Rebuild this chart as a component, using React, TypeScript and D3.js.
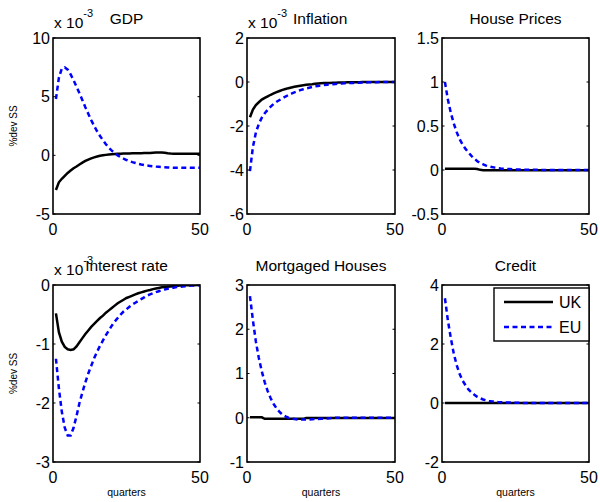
import React from "react";
import * as d3 from "d3";

// quarters 1..50
const quarters: number[] = d3.range(1, 51);

// GDP (x 1e-3)
const gdpUK = [-2.95, -2.3, -2.0, -1.75, -1.5, -1.3, -1.1, -0.95, -0.78, -0.62, -0.48, -0.36, -0.26, -0.17, -0.1, -0.04, 0.0, 0.04, 0.07, 0.1, 0.12, 0.13, 0.14, 0.15, 0.15, 0.16, 0.17, 0.17, 0.18, 0.18, 0.19, 0.19, 0.2, 0.22, 0.24, 0.25, 0.25, 0.22, 0.18, 0.15, 0.14, 0.14, 0.14, 0.14, 0.14, 0.14, 0.14, 0.14, 0.14, 0.14];
const gdpEU = [4.8, 6.6, 7.4, 7.5, 7.3, 6.9, 6.4, 5.85, 5.3, 4.7, 4.1, 3.55, 3.0, 2.5, 2.05, 1.65, 1.28, 0.95, 0.65, 0.4, 0.18, 0.0, -0.15, -0.28, -0.4, -0.5, -0.58, -0.65, -0.72, -0.78, -0.83, -0.87, -0.9, -0.93, -0.96, -0.98, -1.0, -1.02, -1.04, -1.05, -1.06, -1.06, -1.06, -1.06, -1.06, -1.06, -1.06, -1.06, -1.06, -1.06];

// Inflation (x 1e-3)
const inflUK = [-1.6, -1.25, -1.05, -0.92, -0.8, -0.72, -0.65, -0.58, -0.52, -0.46, -0.41, -0.36, -0.32, -0.28, -0.25, -0.22, -0.19, -0.17, -0.15, -0.13, -0.11, -0.1, -0.08, -0.07, -0.06, -0.05, -0.05, -0.04, -0.03, -0.03, -0.02, -0.02, -0.02, -0.01, -0.01, -0.01, -0.01, -0.01, 0.0, 0.0, 0.0, 0.0, 0.0, 0.0, 0.0, 0.0, 0.0, 0.0, 0.0, 0.0];
const inflEU = [-4.05, -2.95, -2.3, -1.9, -1.62, -1.42, -1.26, -1.12, -1.0, -0.9, -0.82, -0.74, -0.66, -0.59, -0.53, -0.47, -0.42, -0.37, -0.33, -0.29, -0.26, -0.23, -0.2, -0.18, -0.16, -0.14, -0.12, -0.11, -0.1, -0.09, -0.08, -0.07, -0.06, -0.05, -0.05, -0.04, -0.03, -0.03, -0.02, -0.02, -0.01, -0.01, -0.01, -0.01, 0.0, 0.0, 0.0, 0.0, 0.0, 0.0];

// House prices
const hpUK = [0.015, 0.015, 0.015, 0.015, 0.015, 0.015, 0.015, 0.015, 0.015, 0.015, 0.015, 0.012, 0.002, -0.002, -0.002, -0.002, -0.002, -0.002, -0.002, -0.002, -0.002, -0.002, -0.002, -0.002, -0.002, -0.002, -0.002, -0.002, -0.002, -0.002, -0.002, -0.002, -0.002, -0.002, -0.002, -0.002, -0.002, -0.002, -0.002, -0.002, -0.002, -0.002, -0.002, -0.002, -0.002, -0.002, -0.002, -0.002, -0.002, -0.002];
const hpEU = [1.0, 0.8, 0.65, 0.53, 0.43, 0.35, 0.29, 0.24, 0.2, 0.16, 0.13, 0.1, 0.08, 0.065, 0.05, 0.04, 0.033, 0.027, 0.022, 0.018, 0.015, 0.012, 0.01, 0.008, 0.007, 0.006, 0.005, 0.004, 0.003, 0.003, 0.002, 0.002, 0.002, 0.001, 0.001, 0.001, 0.001, 0.0, 0.0, 0.0, 0.0, 0.0, 0.0, 0.0, 0.0, 0.0, 0.0, 0.0, 0.0, 0.0];

// Interest rate (x 1e-3)
const irUK = [-0.48, -0.8, -0.96, -1.05, -1.09, -1.1, -1.09, -1.04, -0.97, -0.9, -0.83, -0.77, -0.71, -0.66, -0.61, -0.56, -0.52, -0.47, -0.43, -0.39, -0.35, -0.31, -0.28, -0.25, -0.22, -0.2, -0.18, -0.16, -0.14, -0.125, -0.11, -0.095, -0.085, -0.07, -0.06, -0.05, -0.04, -0.035, -0.03, -0.025, -0.02, -0.015, -0.01, -0.008, -0.006, -0.005, -0.004, -0.003, -0.002, -0.002];
const irEU = [-1.25, -1.75, -2.15, -2.42, -2.55, -2.55, -2.42, -2.22, -2.0, -1.82, -1.65, -1.5, -1.37, -1.24, -1.13, -1.03, -0.94, -0.85, -0.77, -0.69, -0.62, -0.56, -0.5, -0.45, -0.41, -0.37, -0.33, -0.3, -0.27, -0.24, -0.21, -0.18, -0.16, -0.14, -0.12, -0.105, -0.09, -0.075, -0.065, -0.055, -0.045, -0.035, -0.03, -0.025, -0.02, -0.015, -0.01, -0.008, -0.005, -0.003];

// Mortgaged houses
const mhUK = [0.01, 0.01, 0.01, 0.01, 0.01, -0.025, -0.025, -0.025, -0.025, -0.025, -0.025, -0.025, -0.025, -0.025, -0.025, -0.025, -0.025, -0.025, -0.025, -0.005, -0.005, -0.005, -0.005, -0.005, -0.005, -0.005, -0.005, -0.005, -0.005, -0.005, -0.005, -0.005, -0.005, -0.005, -0.005, -0.005, -0.005, -0.005, -0.005, -0.005, -0.005, -0.005, -0.005, -0.005, -0.005, -0.005, -0.005, -0.005, -0.005, -0.005];
const mhEU = [2.75, 2.2, 1.72, 1.35, 1.05, 0.8, 0.6, 0.44, 0.31, 0.21, 0.13, 0.07, 0.03, 0.0, -0.02, -0.03, -0.04, -0.04, -0.04, -0.04, -0.04, -0.035, -0.03, -0.03, -0.025, -0.02, -0.015, -0.01, -0.005, 0.0, 0.0, 0.0, 0.0, 0.0, 0.0, 0.0, 0.0, 0.0, 0.0, 0.0, 0.0, 0.0, 0.0, 0.0, 0.0, 0.0, 0.0, 0.0, 0.0, 0.0];

// Credit
const crUK = [0.0, 0.0, 0.0, 0.0, 0.0, 0.0, 0.0, 0.0, 0.0, 0.0, 0.0, 0.0, 0.0, 0.0, 0.0, 0.0, 0.0, 0.0, 0.0, 0.0, 0.0, 0.0, 0.0, 0.0, 0.0, 0.0, 0.0, 0.0, 0.0, 0.0, 0.0, 0.0, 0.0, 0.0, 0.0, 0.0, 0.0, 0.0, 0.0, 0.0, 0.0, 0.0, 0.0, 0.0, 0.0, 0.0, 0.0, 0.0, 0.0, 0.0];
const crEU = [3.55, 2.8, 2.2, 1.68, 1.28, 0.98, 0.76, 0.6, 0.46, 0.36, 0.28, 0.21, 0.16, 0.12, 0.09, 0.07, 0.055, 0.045, 0.035, 0.028, 0.022, 0.018, 0.014, 0.011, 0.008, 0.006, 0.004, 0.003, 0.002, 0.001, 0.0, 0.0, 0.0, 0.0, 0.0, 0.0, 0.0, 0.0, 0.0, 0.0, 0.0, 0.0, 0.0, 0.0, 0.0, 0.0, 0.0, 0.0, 0.0, 0.0];

const titles = ["GDP", "Inflation", "House Prices", "Interest rate", "Mortgaged Houses", "Credit"];
const yDomains: [number, number][] = [[-5, 10], [-6, 2], [-0.5, 1.5], [-3, 0], [-1, 3], [-2, 4]];
const yTicks: number[][] = [[-5, 0, 5, 10], [-6, -4, -2, 0, 2], [-0.5, 0, 0.5, 1, 1.5], [-3, -2, -1, 0], [-1, 0, 1, 2, 3], [-2, 0, 2, 4]];
const xTicks = [0, 50];
const seriesNames = ["UK", "EU"];
const ukSeries = [gdpUK, inflUK, hpUK, irUK, mhUK, crUK];
const euSeries = [gdpEU, inflEU, hpEU, irEU, mhEU, crEU];
const hasExponent = [true, true, false, true, false, false];

const colLefts = [53, 247, 442];
const colRights = [200, 395, 589];
const rowTops = [38, 285];
const rowBottoms = [214, 462];

const FONT = "'Liberation Sans', Arial, Helvetica, sans-serif";
const TICK_FS = 16;
const TITLE_FS = 15.5;

function Panel({ idx }: { idx: number }) {
  const col = idx % 3;
  const row = Math.floor(idx / 3);
  const x0 = colLefts[col], x1 = colRights[col];
  const y0 = rowTops[row], y1 = rowBottoms[row];
  const x = d3.scaleLinear().domain([0, 50]).range([x0, x1]);
  const y = d3.scaleLinear().domain(yDomains[idx]).range([y1, y0]);
  const line = d3
    .line<number>()
    .x((_, i) => x(quarters[i]))
    .y((d) => y(d));
  const cx = (x0 + x1) / 2;
  const tickLen = 2.5;
  const clipId = `clip${idx}`;
  const fmt = (v: number) => String(v);
  return (
    <g>
      <defs>
        <clipPath id={clipId}>
          <rect x={x0} y={y0} width={x1 - x0} height={y1 - y0} />
        </clipPath>
      </defs>
      <rect x={x0} y={y0} width={x1 - x0} height={y1 - y0} fill="#fff" />
      <g clipPath={`url(#${clipId})`}>
        <path d={line(ukSeries[idx]) || ""} fill="none" stroke="#000" strokeWidth={2.5} />
        <path d={line(euSeries[idx]) || ""} fill="none" stroke="#0000ff" strokeWidth={2.5} strokeDasharray="5,3.5" />
      </g>
      <rect x={x0} y={y0} width={x1 - x0} height={y1 - y0} fill="none" stroke="#000" strokeWidth={1.6} />
      {yTicks[idx].map((t) => (
        <g key={"y" + t}>
          <line x1={x0} x2={x0 + tickLen} y1={y(t)} y2={y(t)} stroke="#000" strokeWidth={1} />
          <line x1={x1} x2={x1 - tickLen} y1={y(t)} y2={y(t)} stroke="#000" strokeWidth={1} />
          <text x={x0 - 3} y={y(t)} dy="0.36em" textAnchor="end" fontSize={TICK_FS} fontFamily={FONT} fill="#000">
            {fmt(t)}
          </text>
        </g>
      ))}
      {xTicks.map((t) => (
        <text key={"x" + t} x={x(t)} y={y1 + 21} textAnchor="middle" fontSize={TICK_FS} fontFamily={FONT} fill="#000">
          {fmt(t)}
        </text>
      ))}
      {hasExponent[idx] && (
        <text x={x0 + 1} y={y0 - 10} fontSize={TITLE_FS} fontFamily={FONT} fill="#000">
          x 10
          <tspan dy={-11} fontSize={11}>-3</tspan>
        </text>
      )}
      <text
        x={cx}
        y={y0 - 14}
        textAnchor={idx === 1 ? "start" : "middle"}
        dx={idx === 1 ? -28 : 0}
        fontSize={TITLE_FS}
        fontFamily={FONT}
        fill="#000"
      >
        {titles[idx]}
      </text>
      {col === 0 && (
        <text
          transform={`translate(${17},${(y0 + y1) / 2}) rotate(-90)`}
          textAnchor="middle"
          fontSize={10}
          fontFamily={FONT}
          fill="#000"
        >
          %dev SS
        </text>
      )}
      {row === 1 && (
        <text x={cx} y={y1 + 34} textAnchor="middle" fontSize={10.5} fontFamily={FONT} fill="#000">
          quarters
        </text>
      )}
    </g>
  );
}

function Legend() {
  const lx0 = 494, lx1 = 589, ly0 = 288, ly1 = 341;
  const rows = [302, 327];
  return (
    <g>
      <rect x={lx0} y={ly0} width={lx1 - lx0} height={ly1 - ly0} fill="#fff" stroke="#000" strokeWidth={1.4} />
      {seriesNames.map((n, i) => (
        <g key={n}>
          <line
            x1={504}
            x2={553}
            y1={rows[i]}
            y2={rows[i]}
            stroke={i === 0 ? "#000" : "#0000ff"}
            strokeWidth={2.5}
            strokeDasharray={i === 0 ? undefined : "5,3.5"}
          />
          <text x={559} y={rows[i]} dy="0.36em" fontSize={TICK_FS} fontFamily={FONT} fill="#000">
            {n}
          </text>
        </g>
      ))}
    </g>
  );
}

export default function App() {
  return (
    <svg width={600} height={502} style={{ display: "block", position: "absolute", left: 0, top: 0, background: "#fff" }}>
      <rect width={600} height={502} fill="#fff" />
      {titles.map((_, i) => (
        <Panel key={i} idx={i} />
      ))}
      <Legend />
    </svg>
  );
}
